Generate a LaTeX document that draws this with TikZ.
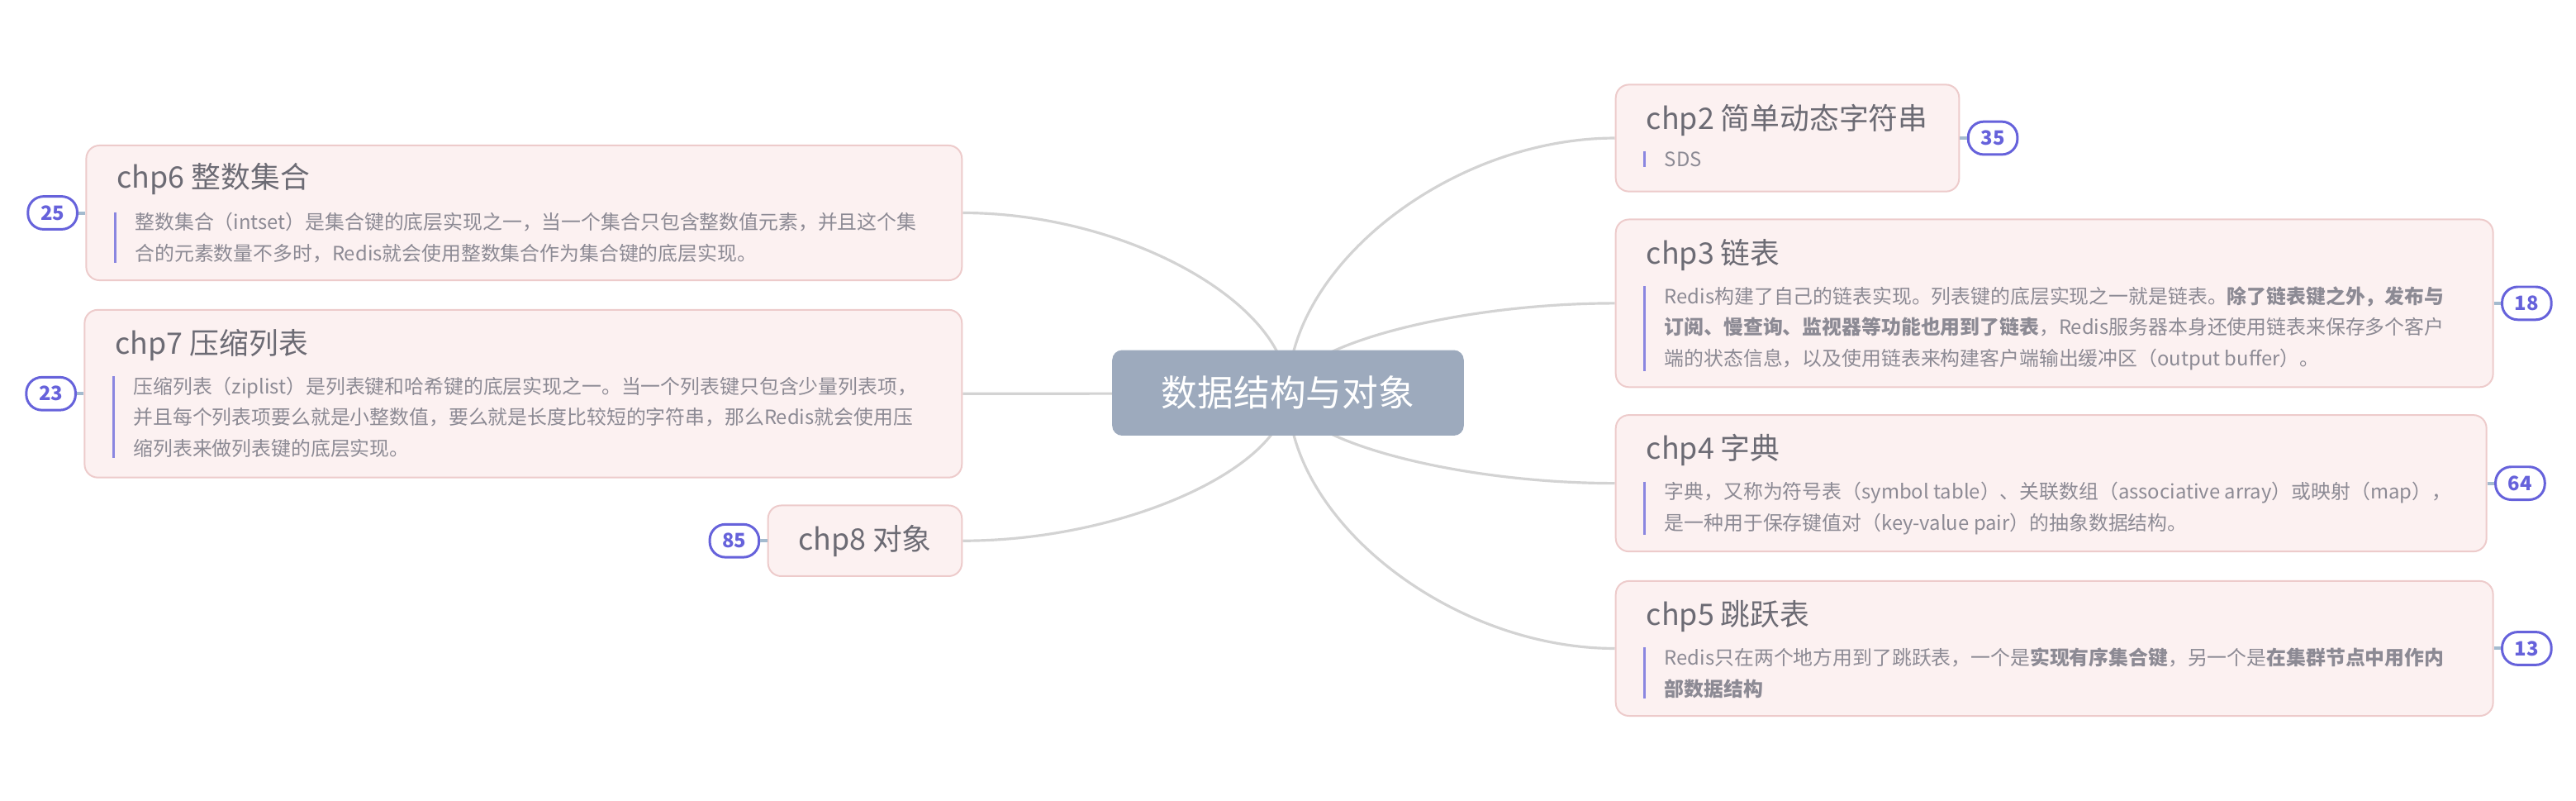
\documentclass[tikz,border=0pt]{standalone}
\usepackage{fontspec}
\setmainfont{Noto Sans CJK SC}
\usetikzlibrary{calc,backgrounds}

\definecolor{rootfill}{HTML}{9DAABD}
\definecolor{boxfill}{HTML}{FCF1F1}
\definecolor{boxline}{HTML}{EDCBCB}
\definecolor{titlegray}{HTML}{6C6B74}
\definecolor{descgray}{HTML}{8C8A94}
\definecolor{barblue}{HTML}{8A86E0}
\definecolor{numblue}{HTML}{6662DB}
\definecolor{linkblue}{HTML}{A4BBCF}
\definecolor{branchgray}{HTML}{D3D3D3}

\tikzset{
  rootbox/.style={fill=rootfill, rounded corners=6pt, minimum width=214pt, minimum height=52pt, inner sep=0pt, text=white, font=\fontsize{22}{26}\selectfont},
  topicbox/.style={draw=boxline, line width=1pt, fill=boxfill, rounded corners=8pt, inner sep=0pt, anchor=north west},
  topictitle/.style={anchor=west, inner sep=0pt, text=titlegray, font=\fontsize{18}{22}\selectfont},
  topicdesc/.style={anchor=north west, inner sep=0pt, align=left, text=descgray, font=\fontsize{12}{19}\selectfont},
  descbar/.style={line width=1.5pt, color=barblue},
  numbadge/.style={draw=numblue, line width=1.5pt, fill=white, rounded corners=9.5pt, minimum width=30pt, minimum height=20pt, inner sep=0pt, text=numblue, font=\fontsize{12}{12}\selectfont\bfseries},
  countlink/.style={line width=2pt, color=linkblue},
  branchline/.style={line width=1.6pt, color=branchgray},
}

\begin{document}
\begin{tikzpicture}[x=1pt, y=-1pt]
			%%%%% START %%%%%
			\useasboundingbox (0, 0) rectangle (1568, 486.8);
			
			\node[rootbox] (root) at (784, 239) {数据结构与对象};
			
			% right side
			\node[topicbox, minimum width=209pt, minimum height=65pt] (sds) at (983, 51) {};
			\node[topictitle] (sdstitle) at ($(sds.north west)+(19, 22)$) {chp2 简单动态字符串};
			\node[topicdesc] (sdsdesc) at ($(sds.north west)+(30, 41)$) {SDS};
			\draw[descbar] ($(sdsdesc.north west)+(-12, 0)$) -- ($(sdsdesc.south west)+(-12, 0)$);
			\node[numbadge] (sdsnum) at ($(sds.east)+(20, 0)$) {35};
			\draw[countlink] (sds.east) -- (sdsnum.west);
			
			\node[topicbox, minimum width=534pt, minimum height=102pt] (list) at (983, 133) {};
			\node[topictitle] (listtitle) at ($(list.north west)+(19, 22)$) {chp3 链表};
			\node[topicdesc] (listdesc) at ($(list.north west)+(30, 41)$) {Redis构建了自己的链表实现。列表键的底层实现之一就是链表。\textbf{除了链表键之外，发布与}\\\textbf{订阅、慢查询、监视器等功能也用到了链表}，Redis服务器本身还使用链表来保存多个客户\\端的状态信息，以及使用链表来构建客户端输出缓冲区（output buffer）。};
			\draw[descbar] ($(listdesc.north west)+(-12, 0)$) -- ($(listdesc.south west)+(-12, 0)$);
			\node[numbadge] (listnum) at ($(list.east)+(20, 0)$) {18};
			\draw[countlink] (list.east) -- (listnum.west);
			
			\node[topicbox, minimum width=530pt, minimum height=83pt] (dict) at (983, 252) {};
			\node[topictitle] (dicttitle) at ($(dict.north west)+(19, 22)$) {chp4 字典};
			\node[topicdesc] (dictdesc) at ($(dict.north west)+(30, 41)$) {字典，又称为符号表（symbol table）、关联数组（associative array）或映射（map），\\是一种用于保存键值对（key-value pair）的抽象数据结构。};
			\draw[descbar] ($(dictdesc.north west)+(-12, 0)$) -- ($(dictdesc.south west)+(-12, 0)$);
			\node[numbadge] (dictnum) at ($(dict.east)+(20, 0)$) {64};
			\draw[countlink] (dict.east) -- (dictnum.west);
			
			\node[topicbox, minimum width=534pt, minimum height=82pt] (skip) at (983, 353) {};
			\node[topictitle] (skiptitle) at ($(skip.north west)+(19, 22)$) {chp5 跳跃表};
			\node[topicdesc] (skipdesc) at ($(skip.north west)+(30, 41)$) {Redis只在两个地方用到了跳跃表，一个是\textbf{实现有序集合键}，另一个是\textbf{在集群节点中用作内}\\\textbf{部数据结构}};
			\draw[descbar] ($(skipdesc.north west)+(-12, 0)$) -- ($(skipdesc.south west)+(-12, 0)$);
			\node[numbadge] (skipnum) at ($(skip.east)+(20, 0)$) {13};
			\draw[countlink] (skip.east) -- (skipnum.west);
			
			% left side
			\node[topicbox, minimum width=533pt, minimum height=82pt] (intset) at (52, 88) {};
			\node[topictitle] (intsettitle) at ($(intset.north west)+(19, 21)$) {chp6 整数集合};
			\node[topicdesc] (intsetdesc) at ($(intset.north west)+(30, 41)$) {整数集合（intset）是集合键的底层实现之一，当一个集合只包含整数值元素，并且这个集\\合的元素数量不多时，Redis就会使用整数集合作为集合键的底层实现。};
			\draw[descbar] ($(intsetdesc.north west)+(-12, 0)$) -- ($(intsetdesc.south west)+(-12, 0)$);
			\node[numbadge] (intsetnum) at ($(intset.west)+(-20, 0)$) {25};
			\draw[countlink] (intset.west) -- (intsetnum.east);
			
			\node[topicbox, minimum width=534pt, minimum height=102pt] (ziplist) at (51, 188) {};
			\node[topictitle] (ziplisttitle) at ($(ziplist.north west)+(19, 22)$) {chp7 压缩列表};
			\node[topicdesc] (ziplistdesc) at ($(ziplist.north west)+(30, 41)$) {压缩列表（ziplist）是列表键和哈希键的底层实现之一。当一个列表键只包含少量列表项，\\并且每个列表项要么就是小整数值，要么就是长度比较短的字符串，那么Redis就会使用压\\缩列表来做列表键的底层实现。};
			\draw[descbar] ($(ziplistdesc.north west)+(-12, 0)$) -- ($(ziplistdesc.south west)+(-12, 0)$);
			\node[numbadge] (ziplistnum) at ($(ziplist.west)+(-20, 0)$) {23};
			\draw[countlink] (ziplist.west) -- (ziplistnum.east);
			
			\node[topicbox, minimum width=118pt, minimum height=43pt] (object) at (467, 307) {};
			\node[topictitle, anchor=center] (objecttitle) at (object.center) {chp8 对象};
			\node[numbadge] (objectnum) at ($(object.west)+(-20, 0)$) {85};
			\draw[countlink] (object.west) -- (objectnum.east);
			
			% branches
			\begin{scope}[on background layer]
				\foreach \t in {sds, list, dict, skip}
					\draw[branchline] (root.center) .. controls ($(root.center)!0.5!(root.center |- \t.west)$) and ($(\t.west)!0.5!(root.center |- \t.west)$) .. (\t.west);
				\foreach \t in {intset, ziplist, object}
					\draw[branchline] (root.center) .. controls ($(root.center)!0.5!(root.center |- \t.east)$) and ($(\t.east)!0.5!(root.center |- \t.east)$) .. (\t.east);
			\end{scope}
			
			%%%%% END %%%%%
\end{tikzpicture}
\end{document}
